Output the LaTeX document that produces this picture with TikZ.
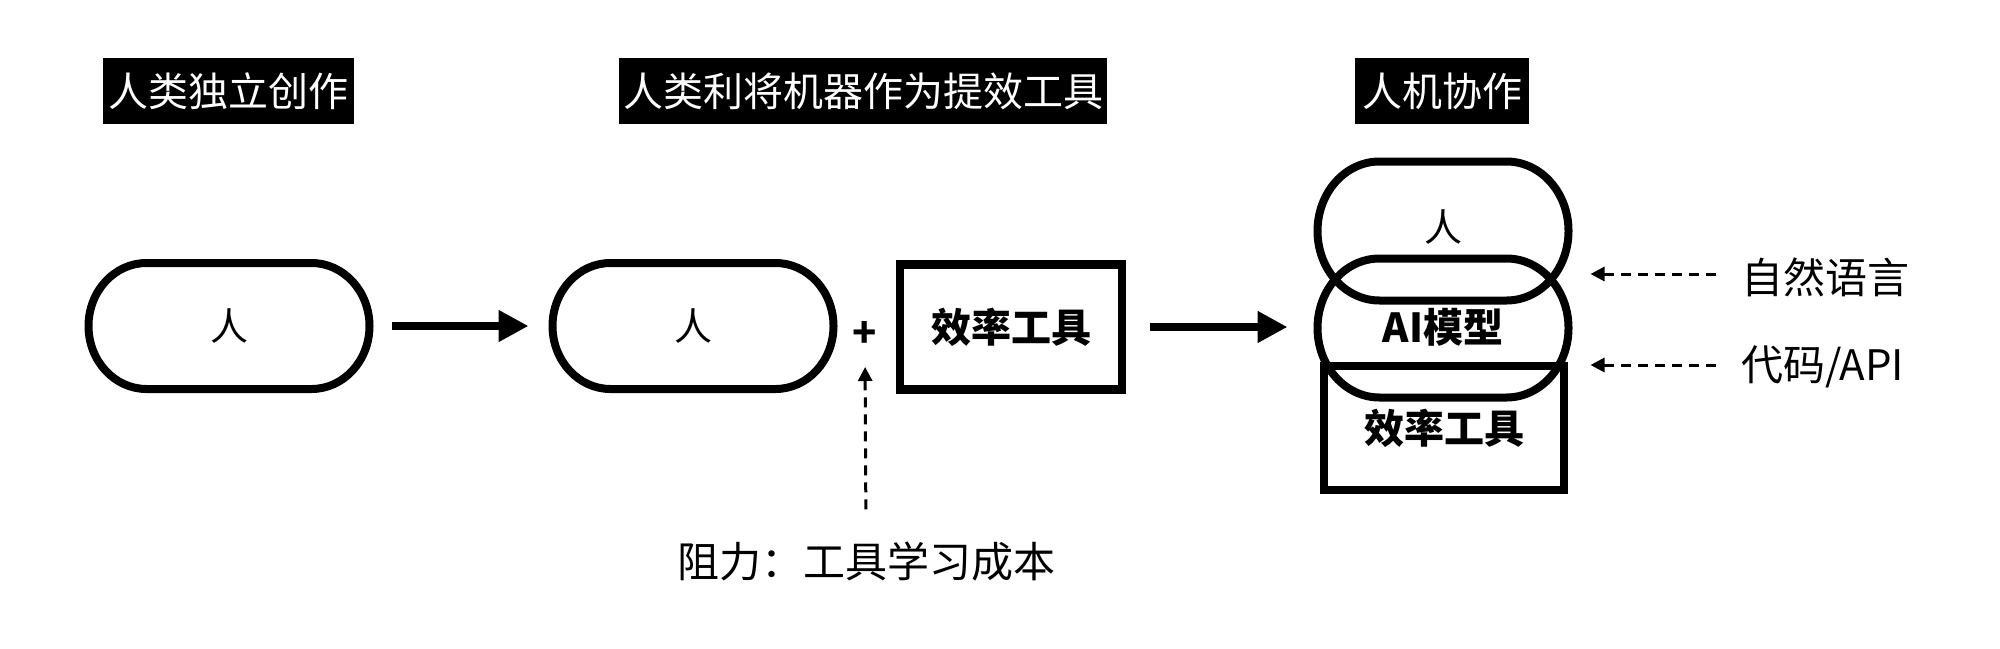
\documentclass[tikz,border=0pt]{standalone}
\usepackage{fontspec}
\setmainfont{Noto Sans CJK SC}
\usetikzlibrary{arrows.meta}
\newcommand\pillshape[3]{%
  \draw[line width=4pt,line join=round] ([xshift=#2]#1.north west) -- ([xshift=-#2]#1.north east)
    arc[start angle=90,end angle=-90,x radius=#2,y radius=#3]
    -- ([xshift=#2]#1.south west)
    arc[start angle=270,end angle=90,x radius=#2,y radius=#3] -- cycle;}
\begin{document}
\begin{tikzpicture}[x=0.5pt,y=-0.5pt,
  ttl/.style={fill=black,text=white,minimum height=33pt,inner sep=0pt,outer sep=0pt},
  pill/.style={inner sep=0pt,outer sep=0pt,font=\fontsize{19pt}{22pt}\selectfont},
  toolbox/.style={draw,line width=4.2pt,inner sep=0pt,outer sep=0pt,font=\bfseries\fontsize{20pt}{24pt}\selectfont},
  bigarrow/.style={line width=4pt,-{Triangle[length=15pt,width=15pt]}},
  dasharrow/.style={line width=1.5pt,dash pattern=on 5pt off 3.5pt,-{Triangle[length=7pt,width=7pt]}},
  lbl/.style={font=\fontsize{21pt}{25pt}\selectfont,inner sep=0pt,outer sep=0pt}
]
\useasboundingbox (0,0) rectangle (2000,648);

% titles
\node[ttl,minimum width=125.5pt,font=\fontsize{20pt}{24pt}\selectfont] (t1) at (228.5,91) {人类独立创作};
\node[ttl,minimum width=244pt,font=\fontsize{20pt}{24pt}\selectfont] (t2) at (863,91) {人类利将机器作为提效工具};
\node[ttl,minimum width=87pt,font=\fontsize{20pt}{24pt}\selectfont] (t3) at (1442,91) {人机协作};

% stage 1
\node[pill,minimum width=140.5pt,minimum height=63pt] (p1) at (229,326) {人};
\pillshape{p1}{29pt}{31.5pt}

% stage 2
\node[pill,minimum width=140.5pt,minimum height=63pt] (p2) at (693,326) {人};
\pillshape{p2}{29pt}{31.5pt}
\node[font=\bfseries\fontsize{20pt}{24pt}\selectfont,inner sep=0pt,outer sep=0pt] (plus) at (865,334) {+};
\node[toolbox,minimum width=111pt,minimum height=62.5pt] (tb) at (1011,327) {效率工具};
\node[lbl] (cost) at (866,561) {阻力：工具学习成本};

% stage 3
\node[pill,minimum width=125.5pt,minimum height=69.5pt] (hu) at (1443,231) {};
\node[pill,minimum width=125.5pt,minimum height=69.5pt] (ai) at (1443,328) {};
\pillshape{hu}{31pt}{34.75pt}
\pillshape{ai}{31pt}{34.75pt}
\node[pill] (hut) at (1443,227) {人};
\node[pill,font=\bfseries\fontsize{20pt}{24pt}\selectfont] (ait) at (1443,327) {AI模型};
\node[toolbox,minimum width=120pt,minimum height=62pt] (tb2) at (1444,428) {效率工具};

\node[lbl,anchor=west] (nl) at (1741,277) {自然语言};
\node[lbl,anchor=west] (code) at (1741,367) {代码/API};

% connectors
\draw[bigarrow,shorten <=11pt,shorten >=12pt] (p1.east) -- (p2.west);
\draw[bigarrow,shorten <=14pt,shorten >=15pt] (tb.east) -- (tb.east -| ai.west);
\draw[dasharrow,shorten <=16pt,shorten >=10pt] (cost.north) -- (plus.south);
\draw[dasharrow,shorten <=12.5pt,shorten >=11pt] ([yshift=1.5pt]nl.west) -- ([yshift=1.5pt]nl.west -| ai.east);
\draw[dasharrow,shorten <=12.5pt,shorten >=11pt] ([yshift=1pt]code.west) -- ([yshift=1pt]code.west -| ai.east);
\end{tikzpicture}
\end{document}
